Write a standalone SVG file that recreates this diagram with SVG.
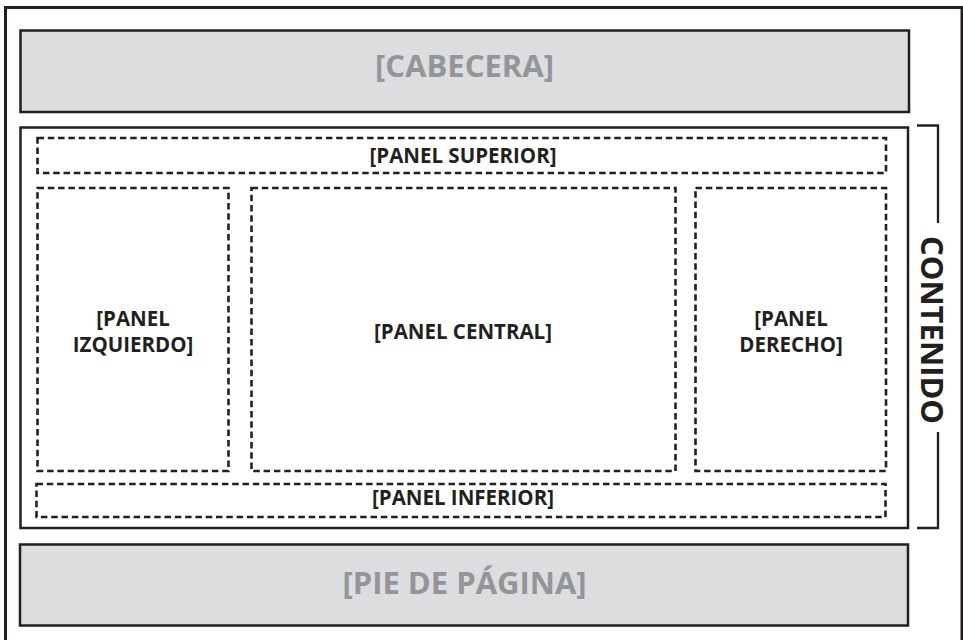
<svg xmlns="http://www.w3.org/2000/svg" width="963" height="640" viewBox="0 0 963 640">
<style>
  .frame { fill: none; stroke: #231f20; stroke-width: 3; }
  .band { fill: #dcdddf; stroke: #231f20; stroke-width: 2.5; }
  .box { fill: #ffffff; stroke: #231f20; stroke-width: 2.5; }
  .dash { fill: none; stroke: #231f20; stroke-width: 2.6; stroke-dasharray: 6.5 3.8; }
  .bracket { fill: none; stroke: #231f20; stroke-width: 2.3; }
  .big { font-family: "Open Sans", "Liberation Sans", sans-serif; font-weight: bold; font-size: 31px; fill: #939598; text-anchor: middle; }
  .lbl { font-family: "Open Sans", "Liberation Sans", sans-serif; font-weight: bold; font-size: 20.5px; fill: #231f20; text-anchor: middle; }
  .side { font-family: "Open Sans", "Liberation Sans", sans-serif; font-weight: bold; font-size: 31px; fill: #231f20; text-anchor: middle; }
</style>
<rect x="0" y="0" width="963" height="640" fill="#ffffff"/>
<rect class="frame" x="5.5" y="7.5" width="956.5" height="660"/>

<g id="cabecera">
  <rect class="band" x="20.5" y="30.5" width="888.5" height="81.5"/>
  <text class="big" x="464.5" y="77">[CABECERA]</text>
</g>

<g id="contenido">
  <rect class="box" x="20.5" y="127.5" width="887.5" height="400.5"/>
</g>

<g id="panel-superior">
  <rect class="dash" x="37.5" y="138" width="848.5" height="35"/>
  <text class="lbl" x="463" y="163">[PANEL SUPERIOR]</text>
</g>

<g id="panel-izquierdo">
  <rect class="dash" x="37.5" y="188" width="191" height="283"/>
  <text class="lbl" x="133" y="326">[PANEL</text>
  <text class="lbl" x="133" y="352">IZQUIERDO]</text>
</g>

<g id="panel-central">
  <rect class="dash" x="251.5" y="188" width="424" height="283"/>
  <text class="lbl" x="463" y="339">[PANEL CENTRAL]</text>
</g>

<g id="panel-derecho">
  <rect class="dash" x="695.5" y="188" width="190.5" height="283"/>
  <text class="lbl" x="791" y="326">[PANEL</text>
  <text class="lbl" x="791" y="352">DERECHO]</text>
</g>

<g id="panel-inferior">
  <rect class="dash" x="36.5" y="484" width="849" height="33"/>
  <text class="lbl" x="463" y="505">[PANEL INFERIOR]</text>
</g>

<g id="pie-de-pagina">
  <rect class="band" x="20" y="544.5" width="888" height="81"/>
  <text class="big" x="464.5" y="594">[PIE DE PÁGINA]</text>
</g>

<g id="connectors">
  <polyline class="bracket" points="917,125.5 938,125.5 938,223"/>
  <polyline class="bracket" points="938,432 938,528 917,528"/>
</g>

<g id="contenido-label">
  <text class="side" transform="translate(921,330) rotate(90)" x="0" y="0">CONTENIDO</text>
</g>
</svg>
